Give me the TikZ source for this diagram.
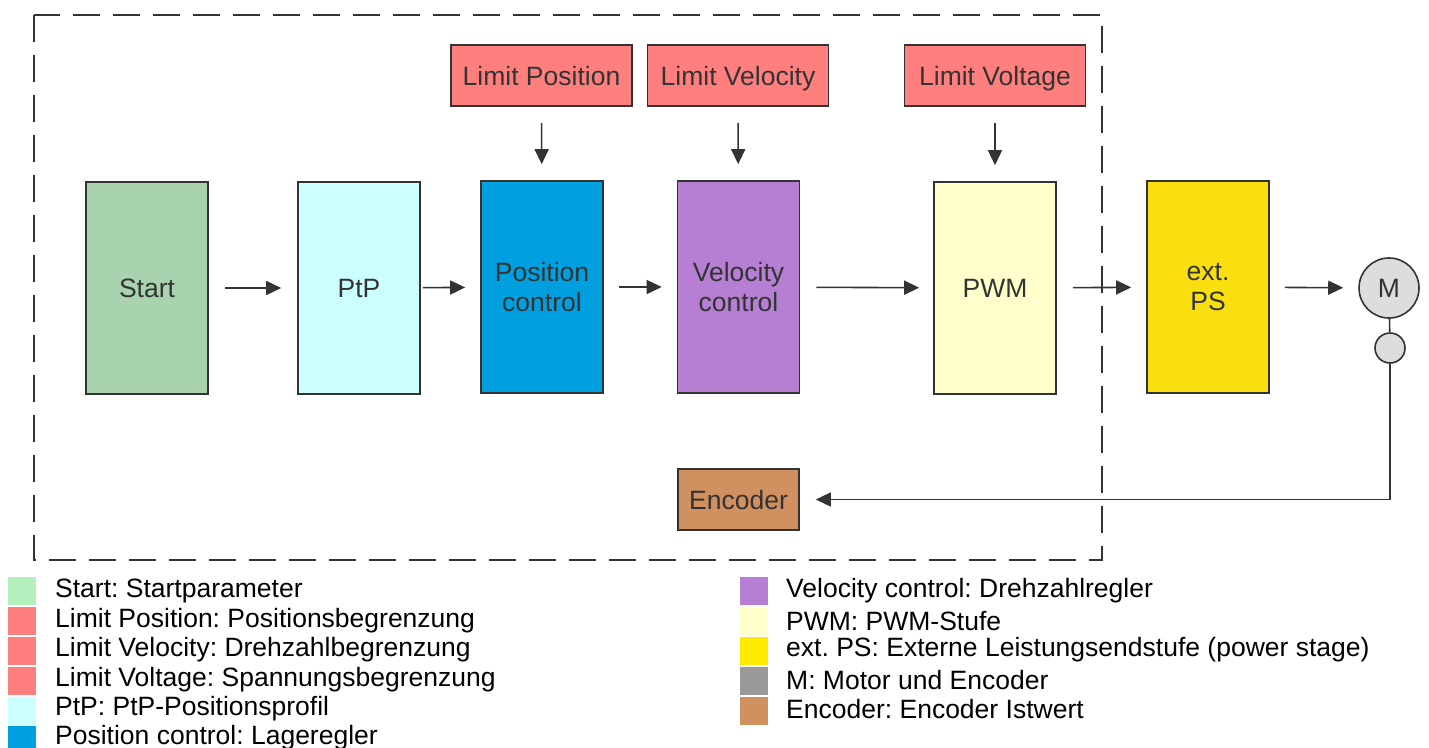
\documentclass[tikz,border=0pt]{standalone}
\usepackage{fontspec}
\setmainfont{Liberation Sans}
\usetikzlibrary{arrows.meta}
\definecolor{lc}{HTML}{333333}
\definecolor{startfill}{HTML}{A9D3AF}
\definecolor{startleg}{HTML}{B3F0BE}
\definecolor{limitc}{HTML}{FF7F7F}
\definecolor{ptpc}{HTML}{CCFFFF}
\definecolor{posc}{HTML}{00A0E0}
\definecolor{velc}{HTML}{B77FD4}
\definecolor{pwmc}{HTML}{FFFFCC}
\definecolor{extc}{HTML}{F9DF10}
\definecolor{extleg}{HTML}{FFEB00}
\definecolor{motc}{HTML}{DDDDDD}
\definecolor{motleg}{HTML}{999999}
\definecolor{encc}{HTML}{D09060}
\frenchspacing
\begin{document}
\begin{tikzpicture}[x=1pt,y=-1pt,
  every node/.style={font=\fontsize{26.5}{29.5}\selectfont},
  one/.style={text height=22pt,text depth=3pt},
  blk/.style={draw=lc,line width=1.6pt,inner sep=0pt,minimum width=122pt,minimum height=212pt,text=lc,align=center},
  lim/.style={draw=lc,line width=1.6pt,inner sep=0pt,minimum width=181pt,minimum height=61pt,text=lc,fill=limitc,one},
  flow/.style={draw=lc,line width=1.6pt,-{Triangle[length=15pt,width=14pt]}},
  legsq/.style={inner sep=0pt,minimum width=28pt,minimum height=28pt,anchor=north west},
  legtx/.style={anchor=west,inner sep=0pt,text=black}]
\useasboundingbox (0,0) rectangle (1429,747);
\draw[lc,line width=2pt,dash pattern=on 27pt off 13pt] (34,15) rectangle (1102,560);
% main blocks
\node[blk,fill=startfill,one] (start) at (147,288) {Start};
\node[blk,fill=ptpc,one] (ptp) at (359,288) {PtP};
\node[blk,fill=posc] (pos) at (542,287) {Position\\control};
\node[blk,fill=velc] (vel) at (738.5,287) {Velocity\\control};
\node[blk,fill=pwmc,one] (pwm) at (995,288) {PWM};
\node[blk,fill=extc] (ext) at (1208,287) {ext.\\PS};
\node[draw=lc,line width=1.6pt,circle,fill=motc,minimum size=60pt,inner sep=0pt,text=lc] (mot) at (1389,288) {M};
\node[draw=lc,line width=1.6pt,circle,fill=motc,minimum size=30pt,inner sep=0pt] (enc) at (1390,348) {};
% limits
\node[lim] (lpos) at (541.5,75.5) {Limit Position};
\node[lim] (lvel) at (738,75.5) {Limit Velocity};
\node[lim] (lvol) at (995,75.5) {Limit Voltage};
\node[draw=lc,line width=1.6pt,inner sep=0pt,minimum width=121pt,minimum height=61pt,text=lc,fill=encc,one] (encoder) at (738.5,499.5) {Encoder};
% connectors
\draw[flow,shorten <=16pt,shorten >=16pt] (start) -- (ptp);
\draw[flow,shorten <=2pt,shorten >=15pt] (ptp) -- (pos);
\draw[flow,shorten <=15pt,shorten >=15pt] (pos) -- (vel);
\draw[flow,shorten <=16pt,shorten >=14pt] (vel) -- (pwm);
\draw[flow,shorten <=16pt,shorten >=15pt] (pwm) -- (ext);
\draw[flow,shorten <=15pt,shorten >=15pt] (ext) -- (mot);
\draw[flow,shorten <=16pt,shorten >=16pt] (lpos) -- (pos);
\draw[flow,shorten <=16pt,shorten >=16pt] (lvel) -- (vel);
\draw[flow,shorten <=16pt,shorten >=16pt] (lvol) -- (pwm);
\draw[lc,line width=1.6pt] (mot) -- (enc);
\draw[flow,shorten >=16pt] (enc.south) |- (encoder.east);
% legend
\node[legsq,fill=startleg] (s1) at (8,577) {};
\node[legsq,fill=limitc] (s2) at (8,607) {};
\node[legsq,fill=limitc] (s3) at (8,637) {};
\node[legsq,fill=limitc] (s4) at (8,667) {};
\node[legsq,fill=ptpc] (s5) at (8,697) {};
\node[legsq,fill=posc] (s6) at (8,726) {};
\node[legtx] (t1) at (55,591) {Start: Startparameter};
\node[legtx] (t2) at (55,621) {Limit Position: Positionsbegrenzung};
\node[legtx] (t3) at (55,650) {Limit Velocity: Drehzahlbegrenzung};
\node[legtx] (t4) at (55,680) {Limit Voltage: Spannungsbegrenzung};
\node[legtx] (t5) at (55,709) {PtP: PtP-Positionsprofil};
\node[legtx] (t6) at (55,738) {Position control: Lageregler};
\node[legsq,fill=velc] (r1) at (740,577) {};
\node[legsq,fill=pwmc] (r2) at (740,607) {};
\node[legsq,fill=extleg] (r3) at (740,637) {};
\node[legsq,fill=motleg] (r4) at (740,667) {};
\node[legsq,fill=encc] (r5) at (740,697) {};
\node[legtx] (u1) at (786,591) {Velocity control: Drehzahlregler};
\node[legtx] (u2) at (786,621) {PWM: PWM-Stufe};
\node[legtx] (u3) at (786,650) {ext. PS: Externe Leistungsendstufe (power stage)};
\node[legtx] (u4) at (786,680) {M: Motor und Encoder};
\node[legtx] (u5) at (786,709) {Encoder: Encoder Istwert};
\end{tikzpicture}
\end{document}
